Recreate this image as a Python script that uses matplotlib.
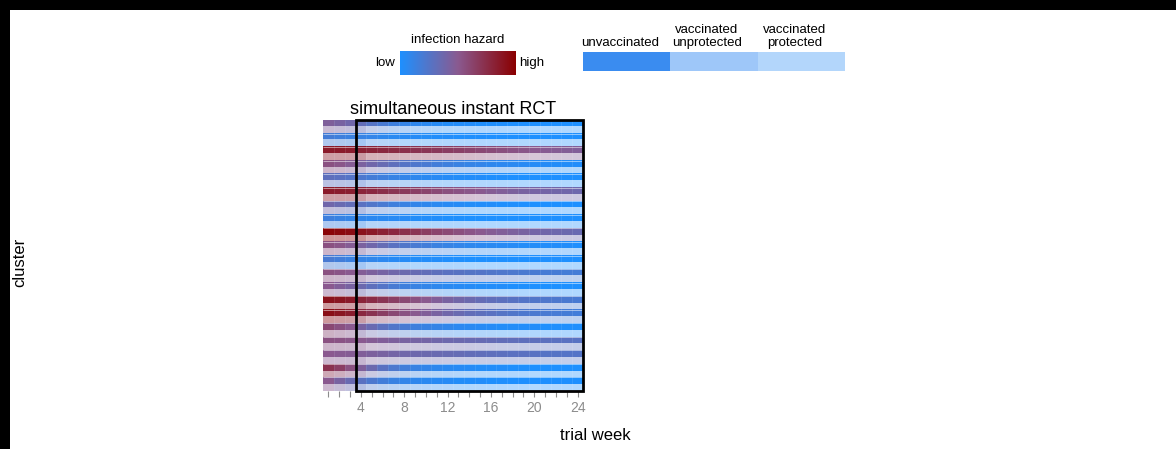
import matplotlib.pyplot as plt
import numpy as np
from matplotlib.colors import LinearSegmentedColormap
from matplotlib.patches import Rectangle

plt.rcParams['font.family'] = ['Liberation Sans', 'DejaVu Sans']

weeks = np.arange(1, 25)
trial_start = 4

# infection hazard per cluster (rows) and trial week (columns), 0 = low, 1 = high
hazard = [
    [0.45, 0.42, 0.38, 0.32, 0.26, 0.20, 0.15, 0.11, 0.08, 0.06, 0.04, 0.03, 0.02, 0.02, 0.01, 0.01, 0.01, 0.00, 0.00, 0.00, 0.00, 0.00, 0.00, 0.00],
    [0.18, 0.16, 0.14, 0.12, 0.10, 0.08, 0.06, 0.05, 0.04, 0.03, 0.02, 0.02, 0.01, 0.01, 0.01, 0.00, 0.00, 0.00, 0.00, 0.00, 0.00, 0.00, 0.00, 0.00],
    [0.85, 0.85, 0.84, 0.82, 0.80, 0.78, 0.76, 0.74, 0.72, 0.70, 0.68, 0.66, 0.64, 0.62, 0.60, 0.58, 0.56, 0.54, 0.52, 0.50, 0.49, 0.48, 0.47, 0.46],
    [0.55, 0.52, 0.48, 0.43, 0.38, 0.34, 0.30, 0.26, 0.23, 0.20, 0.17, 0.15, 0.13, 0.11, 0.10, 0.08, 0.07, 0.06, 0.05, 0.04, 0.04, 0.03, 0.03, 0.02],
    [0.30, 0.28, 0.25, 0.22, 0.18, 0.15, 0.12, 0.10, 0.08, 0.06, 0.05, 0.04, 0.03, 0.02, 0.02, 0.01, 0.01, 0.00, 0.00, 0.00, 0.00, 0.00, 0.00, 0.00],
    [0.85, 0.84, 0.83, 0.80, 0.77, 0.74, 0.71, 0.68, 0.65, 0.62, 0.59, 0.56, 0.54, 0.52, 0.50, 0.48, 0.46, 0.44, 0.42, 0.41, 0.40, 0.39, 0.38, 0.37],
    [0.38, 0.35, 0.32, 0.28, 0.24, 0.20, 0.16, 0.13, 0.10, 0.08, 0.06, 0.05, 0.04, 0.03, 0.02, 0.02, 0.01, 0.01, 0.00, 0.00, 0.00, 0.00, 0.00, 0.00],
    [0.15, 0.13, 0.11, 0.09, 0.07, 0.06, 0.05, 0.04, 0.03, 0.02, 0.02, 0.01, 0.01, 0.00, 0.00, 0.00, 0.00, 0.00, 0.00, 0.00, 0.00, 0.00, 0.00, 0.00],
    [0.97, 0.95, 0.93, 0.90, 0.86, 0.82, 0.78, 0.74, 0.70, 0.66, 0.62, 0.59, 0.56, 0.53, 0.50, 0.48, 0.46, 0.44, 0.42, 0.40, 0.38, 0.37, 0.36, 0.35],
    [0.55, 0.52, 0.48, 0.43, 0.38, 0.33, 0.28, 0.24, 0.20, 0.17, 0.14, 0.12, 0.10, 0.08, 0.07, 0.06, 0.05, 0.04, 0.03, 0.03, 0.02, 0.02, 0.02, 0.01],
    [0.20, 0.17, 0.14, 0.11, 0.09, 0.07, 0.05, 0.04, 0.03, 0.02, 0.02, 0.01, 0.01, 0.00, 0.00, 0.00, 0.00, 0.00, 0.00, 0.00, 0.00, 0.00, 0.00, 0.00],
    [0.55, 0.53, 0.50, 0.47, 0.44, 0.41, 0.38, 0.36, 0.34, 0.32, 0.30, 0.28, 0.27, 0.26, 0.25, 0.24, 0.23, 0.22, 0.21, 0.20, 0.19, 0.19, 0.18, 0.18],
    [0.50, 0.46, 0.42, 0.36, 0.30, 0.25, 0.20, 0.16, 0.13, 0.10, 0.08, 0.06, 0.05, 0.04, 0.03, 0.02, 0.02, 0.01, 0.01, 0.00, 0.00, 0.00, 0.00, 0.00],
    [0.90, 0.88, 0.85, 0.80, 0.75, 0.70, 0.65, 0.60, 0.55, 0.50, 0.46, 0.42, 0.39, 0.36, 0.33, 0.31, 0.29, 0.27, 0.25, 0.24, 0.23, 0.22, 0.21, 0.20],
    [0.92, 0.88, 0.84, 0.78, 0.72, 0.66, 0.60, 0.55, 0.50, 0.46, 0.42, 0.38, 0.35, 0.32, 0.30, 0.28, 0.26, 0.24, 0.22, 0.21, 0.20, 0.19, 0.18, 0.17],
    [0.60, 0.55, 0.50, 0.42, 0.35, 0.29, 0.24, 0.20, 0.16, 0.13, 0.11, 0.09, 0.07, 0.06, 0.05, 0.04, 0.03, 0.03, 0.02, 0.02, 0.01, 0.01, 0.01, 0.01],
    [0.55, 0.54, 0.52, 0.50, 0.48, 0.46, 0.44, 0.42, 0.41, 0.40, 0.38, 0.37, 0.36, 0.35, 0.34, 0.33, 0.32, 0.31, 0.30, 0.30, 0.29, 0.28, 0.28, 0.27],
    [0.50, 0.49, 0.48, 0.46, 0.44, 0.42, 0.40, 0.38, 0.37, 0.36, 0.35, 0.34, 0.33, 0.32, 0.31, 0.30, 0.29, 0.28, 0.28, 0.27, 0.26, 0.26, 0.25, 0.25],
    [0.72, 0.65, 0.55, 0.45, 0.36, 0.28, 0.22, 0.17, 0.13, 0.10, 0.08, 0.06, 0.05, 0.04, 0.03, 0.02, 0.02, 0.01, 0.01, 0.00, 0.00, 0.00, 0.00, 0.00],
    [0.50, 0.42, 0.35, 0.28, 0.22, 0.17, 0.13, 0.10, 0.08, 0.06, 0.05, 0.04, 0.03, 0.02, 0.02, 0.01, 0.01, 0.00, 0.00, 0.00, 0.00, 0.00, 0.00, 0.00],
]

# status of the vaccinated half of every cluster, week by week
vacc_status = ['pre'] * 3 + ['unprotected'] + ['protected'] * 20
status_alpha = {'pre': 0.42, 'unprotected': 0.45, 'protected': 0.35}

status_labels = ['unvaccinated', 'vaccinated\nunprotected', 'vaccinated\nprotected']
status_colors = ['#3a8cf0', '#9ec7f9', '#b3d6fb']

cmap = LinearSegmentedColormap.from_list('hazard', ['#1e90ff', '#8a5a90', '#8b0000'])

H = np.array(hazard)
n_clusters = H.shape[0]

# two rows per cluster: unvaccinated on top, vaccinated below (faded)
img = np.ones((2 * n_clusters, len(weeks), 3))
alphas = np.array([status_alpha[s] for s in vacc_status])
for c in range(n_clusters):
    rgb = cmap(H[c])[:, :3]
    img[2 * c] = rgb
    img[2 * c + 1] = 1 - alphas[:, None] * (1 - rgb)

fig = plt.figure(figsize=(11.76, 4.49), dpi=100, facecolor='black')
fig.patches.append(Rectangle((10 / 1176, 0), 1, 1 - 10 / 449, transform=fig.transFigure,
                             facecolor='white', edgecolor='none', zorder=-1))

ax = fig.add_axes([323 / 1176, 1 - 391 / 449, 260 / 1176, 271 / 449])
ax.imshow(img, aspect='auto', interpolation='nearest', origin='upper',
          extent=(0.5, 24.5, 2 * n_clusters, 0))
ax.vlines(np.arange(1.5, 24.5), 0, 2 * n_clusters, color='white', alpha=0.12, lw=0.6)
ax.hlines(np.arange(2, 2 * n_clusters, 2), 0.5, 24.5, color='white', alpha=0.6, lw=0.6)
ax.set_xlim(0.5, 24.5)
ax.set_ylim(2 * n_clusters, 0)
for s in ax.spines.values():
    s.set_visible(False)
ax.set_yticks([])
ax.set_xticks(weeks)
ax.set_xticklabels([str(w) if w % 4 == 0 else '' for w in weeks])
ax.tick_params(axis='x', colors='#8c8c8c', length=4, width=0.8, labelsize=10, pad=3)
ax.add_patch(Rectangle((trial_start - 0.5, 0), 24.5 - (trial_start - 0.5), 2 * n_clusters,
                       fill=False, edgecolor='black', lw=2, clip_on=False, zorder=5))
ax.set_title('simultaneous instant RCT', fontsize=13, pad=4)

fig.text(595 / 1176, 1 - 436 / 449, 'trial week', fontsize=12, ha='center', va='center')
fig.text(20 / 1176, 1 - 262 / 449, 'cluster', fontsize=12, ha='center', va='center', rotation=90)

# hazard colour key
cax = fig.add_axes([400 / 1176, 1 - 75 / 449, 116 / 1176, 24 / 449])
cax.imshow(np.linspace(0, 1, 256)[None, :], cmap=cmap, aspect='auto', extent=(0, 1, 0, 1))
cax.set_axis_off()
cax.text(0.5, 1.2, 'infection hazard', transform=cax.transAxes, ha='center', va='bottom', fontsize=9.5)
cax.text(-0.04, 0.5, 'low', transform=cax.transAxes, ha='right', va='center', fontsize=9.5)
cax.text(1.03, 0.5, 'high', transform=cax.transAxes, ha='left', va='center', fontsize=9.5)

# vaccination status key
vax = fig.add_axes([583 / 1176, 1 - 71 / 449, 262 / 1176, 19 / 449])
vax.barh(0, [1] * 3, left=np.arange(3), height=1, color=status_colors, align='edge')
vax.set_xlim(0, 3)
vax.set_ylim(0, 1)
vax.set_axis_off()
for i, lab in enumerate(status_labels):
    vax.text(i + 0.42, 1.15, lab, ha='center', va='bottom', fontsize=9.5, linespacing=1.15)

fig.savefig('out.png', dpi=100, facecolor=fig.get_facecolor())
